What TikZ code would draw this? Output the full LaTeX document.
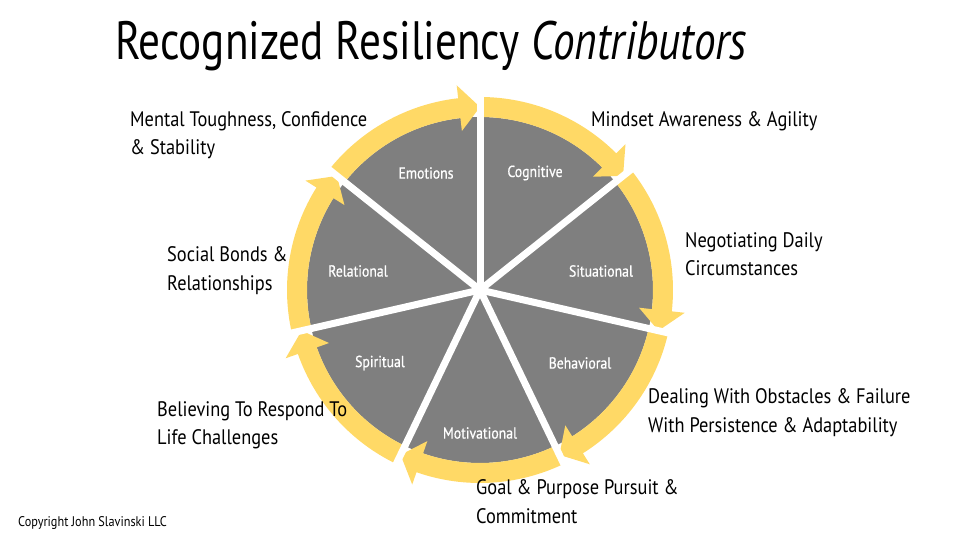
\documentclass[tikz,border=0pt]{standalone}
\usepackage{fontspec}
\setmainfont{PT Sans}
\newfontfamily\bodyfont{PT Sans}[FakeStretch=0.875]
\newfontfamily\wedgefont{PT Sans}[FakeStretch=0.86,FakeBold=0.6]
\newfontfamily\titlefont{PT Sans}[FakeStretch=0.8]
\definecolor{ringyellow}{HTML}{FFD966}
\definecolor{wedgegray}{HTML}{7F7F7F}
\tikzset{
  wedgelabel/.style={text=white, font=\wedgefont\fontsize{16}{18}\selectfont, inner sep=0pt},
  outerlabel/.style={anchor=west, align=left, inner sep=0pt, font=\bodyfont\fontsize{21}{28.5}\selectfont},
}
\begin{document}
\begin{tikzpicture}[x=1pt,y=1pt]
\useasboundingbox (0,0) rectangle (960,540);
\fill[white] (0,0) rectangle (960,540);
\coordinate (C) at (480,250);
% gray disk
\fill[wedgegray] (C) circle[radius=173];
% yellow arrows
\begin{scope}[shift={(480,250)}]
\foreach \k in {0,...,6}{
  \pgfmathsetmacro{\A}{141.4286-\k*51.4286}
  \pgfmathsetmacro{\B}{\A-51.4286}
  \pgfmathsetmacro{\Bb}{\B+6.5}
  \fill[ringyellow] (\A:193) arc[start angle=\A, end angle=\Bb, radius=193]
     -- (\Bb:206) -- (\B:183) -- (\Bb:160) -- (\Bb:173)
     arc[start angle=\Bb, end angle=\A, radius=173] -- cycle;
}
% white separators
\foreach \k in {0,...,6}{
  \pgfmathsetmacro{\A}{90-\k*51.4286}
  \draw[white, line width=7pt] (0,0) -- (\A:220);
}
\fill[white] (0,0) circle[radius=5];
\end{scope}
% wedge labels
\node[wedgelabel] (emo) at (426,367) {Emotions};
\node[wedgelabel] (cog) at (535,367) {Cognitive};
\node[wedgelabel] (sit) at (601,269) {Situational};
\node[wedgelabel] (beh) at (580,177) {Behavioral};
\node[wedgelabel] (mot) at (480,107) {Motivational};
\node[wedgelabel] (spi) at (380,177) {Spiritual};
\node[wedgelabel] (rel) at (358,269) {Relational};
% outer labels
\node[outerlabel] (t1) at (130,405) {Mental Toughness, Confidence\\\& Stability};
\node[outerlabel] (t2) at (591,419) {Mindset Awareness \& Agility};
\node[outerlabel] (t3) at (685,286) {Negotiating Daily\\Circumstances};
\node[outerlabel] (t4) at (167,269.5) {Social Bonds \&\\Relationships};
\node[outerlabel] (t5) at (648,127.5) {Dealing With Obstacles \& Failure\\With Persistence \& Adaptability};
\node[outerlabel] (t6) at (157,114.5) {Believing To Respond To\\Life Challenges};
\node[outerlabel] (t7) at (476,38.5) {Goal \& Purpose Pursuit \&\\Commitment};
\node[anchor=west, inner sep=0pt, font=\bodyfont\fontsize{14}{16}\selectfont] (copy) at (18,17) {Copyright John Slavinski LLC};
% title
\node[anchor=base west, inner sep=0pt, font=\titlefont\fontsize{54}{60}\selectfont] (title) at (115,480) {Recognized Resiliency \textit{Contributors}};
\end{tikzpicture}
\end{document}
